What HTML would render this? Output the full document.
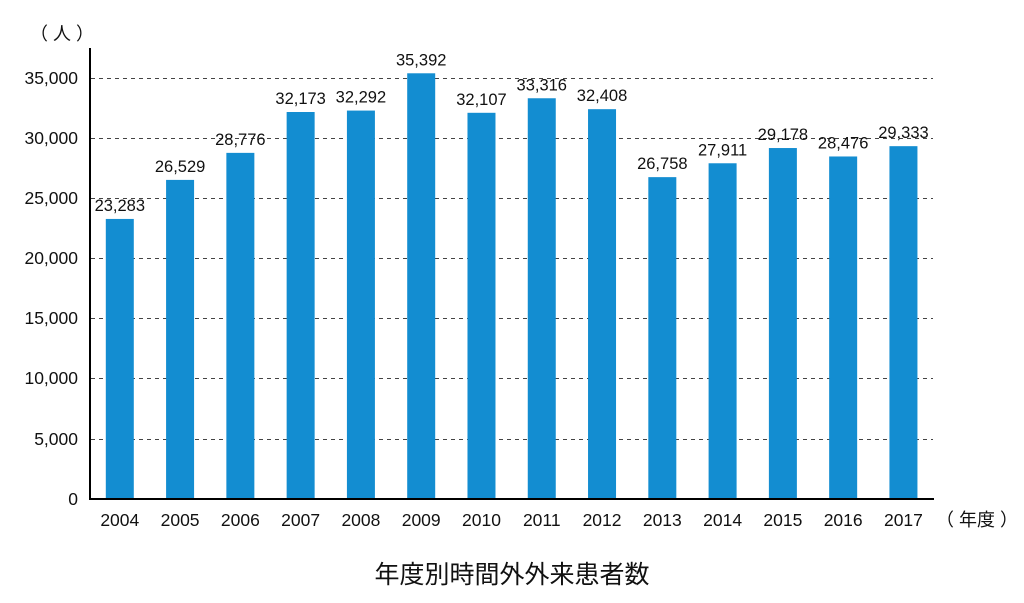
<!DOCTYPE html>
<html><head><meta charset="utf-8"><style>
html,body{margin:0;padding:0;background:#fff;}
svg{display:block;font-family:"Liberation Sans","Noto Sans CJK JP",sans-serif;}
</style></head><body>
<svg width="1024" height="603" viewBox="0 0 1024 603" xmlns="http://www.w3.org/2000/svg">
<g stroke="#444" stroke-width="1" stroke-dasharray="4,4">
<line x1="91" y1="78.5" x2="933" y2="78.5"/>
<line x1="91" y1="138.5" x2="933" y2="138.5"/>
<line x1="91" y1="198.5" x2="933" y2="198.5"/>
<line x1="91" y1="258.5" x2="933" y2="258.5"/>
<line x1="91" y1="318.5" x2="933" y2="318.5"/>
<line x1="91" y1="378.5" x2="933" y2="378.5"/>
<line x1="91" y1="439.5" x2="933" y2="439.5"/>
</g>
<g fill="#138dd1" id="bars"></g>
<line x1="90" y1="48" x2="90" y2="500" stroke="#000" stroke-width="2"/>
<line x1="89" y1="499" x2="934" y2="499" stroke="#000" stroke-width="2"/>
<g font-size="17.5" fill="#111" text-anchor="end">
<text x="78" y="84">35,000</text>
<text x="78" y="144">30,000</text>
<text x="78" y="204">25,000</text>
<text x="78" y="264">20,000</text>
<text x="78" y="324">15,000</text>
<text x="78" y="384">10,000</text>
<text x="78" y="445">5,000</text>
<text x="78" y="505">0</text>
</g>
<text x="30" y="40" font-size="18" fill="#111">（ 人 ）</text>
<text x="936" y="526" font-size="18" fill="#111">（ 年度 ）</text>
<g id="lbl" font-size="16.5" fill="#111" text-anchor="middle"></g>
<text x="512" y="583" font-size="25" fill="#111" text-anchor="middle">年度別時間外外来患者数</text>
<script>
var v=[23283,26529,28776,32173,32292,35392,32107,33316,32408,26758,27911,29178,28476,29333];
var b=document.getElementById('bars'),l=document.getElementById('lbl'),ns='http://www.w3.org/2000/svg';
v.forEach(function(d,i){var cx=119.8+i*60.28,h=d*421/35000;
var r=document.createElementNS(ns,'rect');r.setAttribute('x',cx-14);r.setAttribute('y',499-h);r.setAttribute('width',28);r.setAttribute('height',h);b.appendChild(r);
var t=document.createElementNS(ns,'text');t.setAttribute('x',cx);t.setAttribute('y',499-h-8);t.textContent=d.toLocaleString('en-US');l.appendChild(t);
var y=document.createElementNS(ns,'text');y.setAttribute('x',cx);y.setAttribute('y',526);y.setAttribute('font-size','17.5');y.textContent=2004+i;l.appendChild(y);});
</script>
</svg>
</body></html>
